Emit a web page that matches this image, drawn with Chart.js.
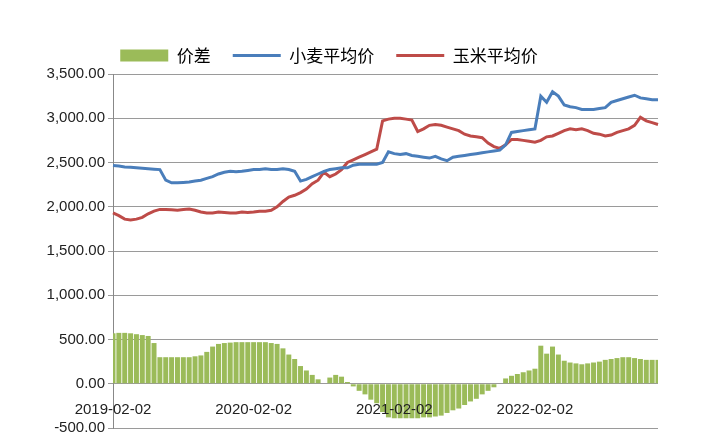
<!DOCTYPE html>
<html>
<head>
<meta charset="utf-8">
<script src="https://cdn.jsdelivr.net/npm/chart.js@4"></script>
<style>
  body { margin: 0; background: #fff; overflow: hidden; }
  #wrap { width: 720px; height: 432px; overflow: hidden; }
</style>
</head>
<body>
<div id="wrap"><canvas id="c" width="720" height="449"></canvas></div>
<script>
// semi-monthly dates, 2019-02 .. 2022-12
const dates = [];
for (let y = 2019; y <= 2022; y++) {
    for (let m = (y === 2019 ? 2 : 1); m <= 12; m++) {
        const mm = String(m).padStart(2, '0');
        dates.push(y + '-' + mm + '-02', y + '-' + mm + '-16');
    }
}

const spread = [
    570, 575, 575, 570, 560, 550, 540, 460, 300, 300, 300, 300, 300, 300, 310, 320, 360, 420, 450, 460, 465, 470,
    470, 470, 470, 470, 470, 460, 450, 400, 330, 280, 200, 150, 100, 50, 0, 70, 100, 80, 20, -30, -80, -120, -180, -220,
    -320, -380, -390, -390, -390, -390, -390, -380, -380, -370, -360, -330, -300, -280, -240, -200, -170, -120, -80, -40, 0, 60, 90, 110,
    130, 150, 170, 430, 340, 420, 330, 260, 240, 230, 220, 230, 240, 250, 270, 280, 290, 300, 300, 290, 280, 270, 270, 270
];
const wheat = [
    2465, 2460, 2450, 2445, 2440, 2435, 2430, 2425, 2420, 2300, 2270, 2270, 2275, 2280, 2290, 2300, 2320, 2340, 2370, 2390, 2400, 2395,
    2400, 2410, 2420, 2420, 2430, 2420, 2420, 2430, 2420, 2400, 2290, 2310, 2340, 2370, 2400, 2420, 2430, 2440, 2440, 2470, 2480, 2480, 2480, 2480,
    2500, 2620, 2600, 2590, 2600, 2580, 2570, 2560, 2550, 2570, 2540, 2520, 2560, 2570, 2580, 2590, 2600, 2610, 2620, 2630, 2640, 2700, 2840, 2850,
    2860, 2870, 2880, 3250, 3180, 3300, 3250, 3150, 3130, 3120, 3100, 3100, 3100, 3110, 3120, 3180, 3200, 3220, 3240, 3260, 3230, 3220, 3210, 3210
];
const corn = [
    1930, 1900, 1860, 1850, 1860, 1880, 1920, 1950, 1970, 1970, 1965, 1960, 1970, 1975, 1960, 1940, 1930, 1930, 1940, 1935, 1930, 1930,
    1940, 1935, 1940, 1950, 1950, 1960, 2000, 2060, 2110, 2130, 2160, 2200, 2260, 2300, 2390, 2340, 2370, 2420, 2500, 2530, 2560, 2590, 2620, 2650,
    2970, 2990, 3000, 3000, 2990, 2980, 2850, 2880, 2920, 2930, 2920, 2900, 2880, 2860, 2820, 2800, 2790, 2780, 2720, 2680, 2660, 2700, 2760, 2760,
    2750, 2740, 2730, 2750, 2790, 2800, 2830, 2860, 2880, 2870, 2880, 2860, 2830, 2820, 2800, 2810, 2840, 2860, 2880, 2920, 3010, 2970, 2950, 2930
];

// draws the yearly date labels inside the plot, like the original
const xLabels = {
    id: 'xLabels',
    afterDraw(chart) {
        const ctx = chart.ctx, xs = chart.scales.x;
        ctx.save();
        ctx.font = '15px "Liberation Sans", Arial, sans-serif';
        ctx.fillStyle = '#222';
        ctx.textAlign = 'center';
        ctx.textBaseline = 'middle';
        dates.forEach((d, i) => {
            if (d.endsWith('-02-02')) ctx.fillText(d, xs.getPixelForValue(i), 410);
        });
        ctx.restore();
    }
};

new Chart(document.getElementById('c'), {
    type: 'bar',
    data: {
        labels: dates,
        datasets: [{
            type: 'line',
            label: '小麦平均价',
            data: wheat,
            borderColor: '#4a7ebb',
            backgroundColor: '#4a7ebb',
            borderWidth: 3,
            pointRadius: 0,
            tension: 0,
            order: 1
        }, {
            type: 'line',
            label: '玉米平均价',
            data: corn,
            borderColor: '#be4b48',
            backgroundColor: '#be4b48',
            borderWidth: 3,
            pointRadius: 0,
            tension: 0,
            order: 2
        }, {
            label: '价差',
            data: spread,
            backgroundColor: '#9bbb59',
            barPercentage: 1,
            categoryPercentage: 0.85,
            order: 3
        }]
    },
    plugins: [xLabels],
    options: {
        responsive: false,
        animation: false,
        layout: { padding: { left: 0, right: 62, top: 25, bottom: 13 } },
        scales: {
            x: {
                offset: false,
                ticks: { display: false },
                grid: { display: false },
                border: { display: false }
            },
            y: {
                min: -500,
                max: 3500,
                afterFit: s => { s.width = 113; },
                ticks: {
                    stepSize: 500,
                    color: '#222',
                    font: { size: 15, family: '"Liberation Sans", Arial' },
                    callback: v => v.toLocaleString('en-US', { minimumFractionDigits: 2, maximumFractionDigits: 2 })
                },
                grid: { color: '#9a9a9a', drawTicks: true, tickLength: 5 },
                border: { color: '#888' }
            }
        },
        plugins: {
            tooltip: { enabled: false },
            legend: {
                labels: {
                    usePointStyle: true,
                    pointStyleWidth: 48,
                    boxHeight: 12,
                    color: '#222',
                    padding: 22,
                    font: { size: 17, family: '"Noto Sans CJK SC"' },
                    generateLabels(chart) {
                        return [2, 0, 1].map(i => {
                            const ds = chart.data.datasets[i];
                            return {
                                text: ds.label,
                                fillStyle: ds.backgroundColor,
                                strokeStyle: ds.backgroundColor,
                                lineWidth: ds.type === 'line' ? 3 : 0,
                                pointStyle: ds.type === 'line' ? 'line' : 'rect',
                                datasetIndex: i,
                                hidden: false
                            };
                        });
                    }
                }
            }
        }
    }
});
</script>
</body>
</html>
